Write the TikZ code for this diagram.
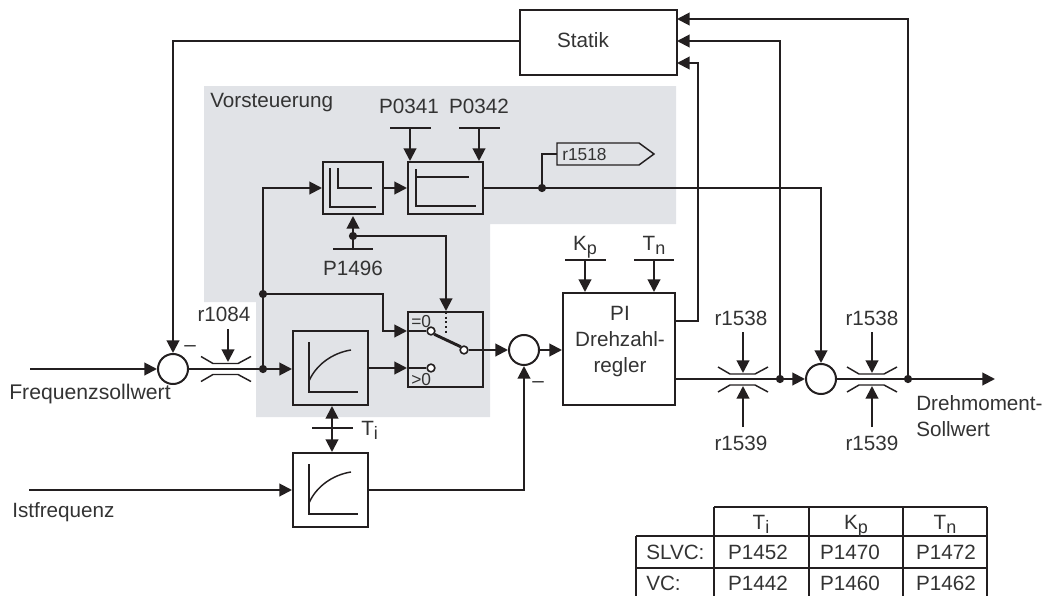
\documentclass[tikz,border=0pt]{standalone}
\usepackage{fontspec}
\setmainfont{Liberation Sans}
\usetikzlibrary{arrows.meta,calc}
\definecolor{ink}{HTML}{231F20}
\definecolor{txt}{HTML}{333333}
\definecolor{panel}{HTML}{E1E3E7}
\newcommand{\sbs}[1]{\raisebox{-0.22em}{\fontsize{13.5pt}{14pt}\selectfont #1}}
\newcommand{\limiter}[2]{%
  \draw[lim] (#1-25,#2-12) -- (#1-13,#2-5) -- (#1+12,#2-5) -- (#1+25,#2-12);
  \draw[lim] (#1-25,#2+13) -- (#1-13,#2+6) -- (#1+12,#2+6) -- (#1+25,#2+13);}
\tikzset{
  x=0.75pt,y=-0.75pt,
  line/.style={draw=ink,line width=1.5pt},
  thin line/.style={draw=ink,line width=1.1pt},
  arr/.style={line,-{Triangle[length=9.5pt,width=9.5pt,color=ink]}},
  biarr/.style={line,{Triangle[length=9.5pt,width=9.5pt,color=ink]}-{Triangle[length=9.5pt,width=9.5pt,color=ink]}},
  lim/.style={draw=ink,line width=1.1pt},
  blk/.style={draw=ink,line width=1.5pt,inner sep=0pt,fill=none},
  sumc/.style={draw=ink,line width=1.5pt,circle,inner sep=0pt,minimum size=22.5pt,fill=white},
  dot/.style={circle,fill=ink,inner sep=0pt,minimum size=6.2pt},
  contact/.style={circle,draw=ink,line width=1.2pt,fill=white,inner sep=0pt,minimum size=5.8pt},
  lbl/.style={anchor=base,inner sep=0pt,text=txt,font=\fontsize{15.5pt}{18pt}\selectfont},
  lblw/.style={lbl,anchor=base west},
  small/.style={font=\fontsize{13pt}{15pt}\selectfont},
}
\begin{document}
\begin{tikzpicture}
\useasboundingbox (0,0) rectangle (1051,596);
\fill[panel] (204,86) -- (676,86) -- (676,224) -- (490,224) -- (490,417) -- (256,417) -- (256,302) -- (204,302) -- cycle;

% blocks
\node[blk,minimum width={157*0.75pt},minimum height={65*0.75pt}] (statik) at (598.5,42.5) {};
\node[lbl] (statiktxt) at (583,47) {Statik};
\node[blk,minimum width={60*0.75pt},minimum height={52*0.75pt}] (lim1) at (353,188) {};
\node[blk,minimum width={75*0.75pt},minimum height={52*0.75pt}] (lim2) at (445.5,188) {};
\node[blk,minimum width={75*0.75pt},minimum height={74*0.75pt}] (ramp1) at (330.5,368) {};
\node[blk,minimum width={75*0.75pt},minimum height={74*0.75pt}] (ramp2) at (330.5,490) {};
\node[blk,minimum width={75*0.75pt},minimum height={75*0.75pt}] (sw) at (445.5,349.5) {};
\node[blk,minimum width={112*0.75pt},minimum height={112*0.75pt}] (pi) at (619,349) {};
\node[lbl] (pit1) at (620,320) {PI};
\node[lbl] (pit2) at (620,346) {Drehzahl-};
\node[lbl] (pit3) at (620,372) {regler};

% inner curves
\draw[thin line] (330,168) -- (330,207) -- (376,207);
\draw[thin line] (338,168) -- (338,188) -- (372,188);
\draw[thin line] (416,169) -- (416,206) -- (476,206);
\draw[thin line] (416,177) -- (469,177);
\foreach \yy in {0,122}{
  \draw[thin line] (309,342+\yy) -- (309,392+\yy) -- (358,392+\yy);
  \draw[thin line] (309,381+\yy) .. controls (316,365+\yy) and (332,353+\yy) .. (351,350+\yy);
}

% sums, junctions
\node[sumc] (s1) at (173,369) {};
\node[sumc] (s2) at (524,350) {};
\node[sumc] (s3) at (821,379) {};
\node[dot] (j1) at (263,369) {};
\node[dot] (j2) at (263,294) {};
\node[dot] (j3) at (353,236) {};
\node[dot] (j4) at (542,188) {};
\node[dot] (j5) at (780,379) {};
\node[dot] (j6) at (908,379) {};

% free ends
\coordinate (fs) at (30,369);
\coordinate (if) at (29,490);
\coordinate (out) at (995,379);
\coordinate (st3) at (677,63);
\coordinate (st2) at (677,41);
\coordinate (st1) at (677,19);
\coordinate (b1496) at (353,249);
\coordinate (bp41) at (410,128);
\coordinate (bp42) at (479,128);
\coordinate (bkp) at (585,260);
\coordinate (btn) at (654,260);
\coordinate (bti) at (332,428);
\coordinate (b84) at (228,329);
\coordinate (b38a) at (743,332);
\coordinate (b39a) at (743,427);
\coordinate (b38b) at (872,332);
\coordinate (b39b) at (872,427);

\foreach \c/\l/\r in {bp41/-20/21,bp42/-20/21,bkp/-20/21,btn/-20/20,bti/-20/21,b1496/-20/20}{
  \draw[line] ($(\c)+(\l,0)$) -- ($(\c)+(\r,0)$);
}

% contacts
\node[contact] (c1) at (431,331) {};
\node[contact] (c2) at (431,368) {};
\node[contact] (c3) at (464,350) {};

% main connectors
\draw[arr] (fs) -- (s1.west);
\draw[line] (s1.east) -- (j1.center);
\draw[arr] (j1.center) -- (ramp1.west |- j1);
\draw[line] (j1.center) -- (j2.center);
\draw[arr] (j2.center) -- (263,188) -- (lim1.west);
\draw[arr] (lim1.east) -- (lim2.west);
\draw[line] (lim2.east) -- (j4.center);
\draw[arr] (j4.center) -- (821,188) -- (s3.north);
\draw[arr] (statik.west |- 0,41) -- (173,41) -- (s1.north);
\draw[arr] (b1496) -- (353,216);
\draw[arr] (j3.center) -- (446,236) -- (sw.north -| 446,0);
\draw[line,dotted,line width=1.4pt] (446,312) -- (446,335);
\draw[arr] (j2.center) -- (383,294) -- (383,331) -- (sw.west |- c1);
\draw[line] (408,331) -- (c1.west);
\draw[arr] (ramp1.east |- c2) -- (sw.west |- c2);
\draw[line] (408,368) -- (c2.west);
\draw[line,line width=2.2pt] (c1.south east) -- (c3.north west);
\draw[arr] (c3.east) -- (s2.west);
\draw[arr] (s2.east) -- (pi.west |- s2);
\draw[arr] (if) -- (ramp2.west |- if);
\draw[arr] (ramp2.east |- if) -- (524,490) -- (s2.south);
\draw[biarr] (332,406) -- (332,452);
\draw[arr] (pi.east |- s3) -- (j5.center) -- (s3.west);
\draw[line] (s3.east) -- (j6.center);
\draw[arr] (j6.center) -- (out);
\draw[arr] (j6.center) -- (908,19) -- (st1);
\draw[arr] (j5.center) -- (780,41) -- (st2);
\draw[arr] (pi.east |- 0,321) -- (698,321) -- (698,63) -- (st3);

% parameter arrows
\draw[arr] (bp41) -- (lim2.north -| bp41);
\draw[arr] (bp42) -- (lim2.north -| bp42);
\draw[arr] (bkp) -- (pi.north -| bkp);
\draw[arr] (btn) -- (pi.north -| btn);
\draw[arr] (b84) -- (228,362);
\draw[arr] (b38a) -- (743,373);
\draw[arr] (b39a) -- (743,386);
\draw[arr] (b38b) -- (872,373);
\draw[arr] (b39b) -- (872,386);

% limiters
\limiter{226}{368.5}
\limiter{743}{379}
\limiter{872}{379}

% r1518 flag
\node[lblw,small] (r1518) at (562,160) {r1518};
\coordinate (flag) at (557,154);
\draw[thin line] (557,143) -- (639,143) -- (654,154) -- (639,165) -- (557,165) -- cycle;
\draw[thin line] (j4.center) -- (542,154) -- (flag);

% labels
\node[lblw] (vor) at (210,107) {Vorsteuerung};
\node[lbl] (p41) at (409,113) {P0341};
\node[lbl] (p42) at (479,113) {P0342};
\node[lbl] (p96) at (353,275) {P1496};
\node[lbl] (r84) at (224,321) {r1084};
\node[lblw,font=\fontsize{15.9pt}{18pt}\selectfont] (fsoll) at (9,399) {Frequenzsollwert};
\node[lblw] (ist) at (12,517) {Istfrequenz};
\node[lblw] (tilab) at (361,435) {T\sbs{i}};
\node[lbl] (kplab) at (585,250) {K\sbs{p}};
\node[lbl] (tnlab) at (654,250) {T\sbs{n}};
\node[lbl] (m1) at (190,351) {–};
\node[lbl] (m2) at (538,387) {–};
\node[lbl] (r38a) at (741,325) {r1538};
\node[lbl] (r39a) at (741,450) {r1539};
\node[lbl] (r38b) at (872,325) {r1538};
\node[lbl] (r39b) at (872,450) {r1539};
\node[lblw] (dm1) at (916,410) {Drehmoment-};
\node[lblw] (dm2) at (916,436) {Sollwert};
\node[lblw,small] (eq0) at (411,327) {=0};
\node[lblw,small] (gt0) at (411,385) {>0};

% table
\draw[line] (714,507) -- (987,507);
\draw[line] (636,536) -- (987,536);
\draw[line] (636,568) -- (987,568);
\draw[line] (636,536) -- (636,596);
\draw[line] (714,507) -- (714,596);
\draw[line] (809,507) -- (809,596);
\draw[line] (903,507) -- (903,596);
\draw[line] (987,507) -- (987,596);
\node[lbl] (h1) at (761,529) {T\sbs{i}};
\node[lbl] (h2) at (856,529) {K\sbs{p}};
\node[lbl] (h3) at (945,529) {T\sbs{n}};
\node[lblw] (t1) at (646,559) {SLVC:};
\node[lblw] (t2) at (646,590) {VC:};
\node[lbl] (a1) at (758,559) {P1452};
\node[lbl] (a2) at (850,559) {P1470};
\node[lbl] (a3) at (946,559) {P1472};
\node[lbl] (b1) at (758,590) {P1442};
\node[lbl] (b2) at (850,590) {P1460};
\node[lbl] (b3) at (946,590) {P1462};
\end{tikzpicture}
\end{document}
